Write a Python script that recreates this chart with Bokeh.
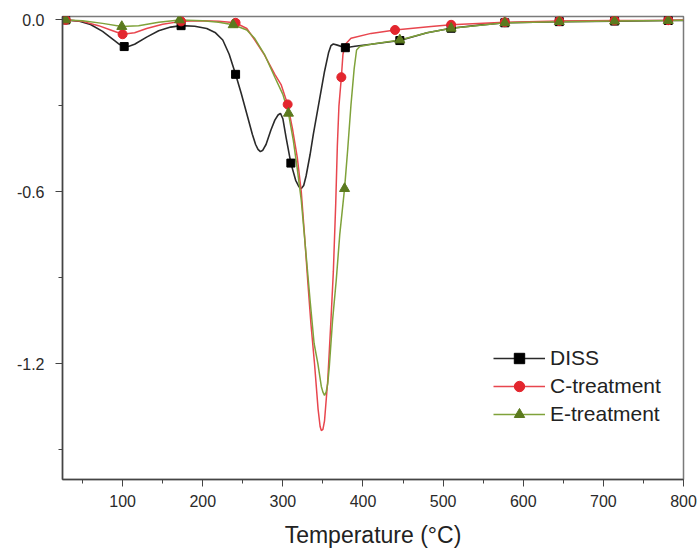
from bokeh.plotting import figure
from bokeh.models import Range1d, FixedTicker, NumeralTickFormatter, Legend, LegendItem
from bokeh.embed import file_html
from bokeh.resources import INLINE

# ---------------- data ----------------
diss_x = [25, 29, 45, 60, 75, 90, 96, 102, 108, 115, 130, 145, 160, 173, 190, 205, 216, 225, 233,
          241, 248, 256, 262, 266, 269, 272, 275, 279, 285, 290, 294, 297, 300, 304, 310, 316,
          320, 323, 326, 329, 334, 338, 345, 352, 357, 360, 363, 368, 378, 390, 410, 446, 480,
          510, 545, 577, 645, 714, 781, 800]
diss_y = [0.0, 0.0, -0.004, -0.016, -0.04, -0.072, -0.085, -0.093, -0.092, -0.085, -0.06, -0.038,
          -0.025, -0.02, -0.022, -0.03, -0.045, -0.07, -0.12, -0.19, -0.256, -0.338, -0.40,
          -0.435, -0.452, -0.46, -0.455, -0.435, -0.385, -0.35, -0.332, -0.326, -0.345, -0.41,
          -0.50, -0.56, -0.582, -0.589, -0.578, -0.545, -0.47, -0.40, -0.29, -0.18, -0.115,
          -0.09, -0.084, -0.088, -0.097, -0.092, -0.085, -0.072, -0.045, -0.029, -0.018, -0.01,
          -0.006, -0.004, -0.002, -0.002]

c_x = [25, 29, 50, 70, 85, 100, 115, 130, 150, 173, 200, 220, 241, 255, 265, 277, 290, 298, 306,
       312, 318, 323, 327, 331, 335, 339.5, 344, 346.5, 348, 350, 352, 356, 360, 363, 366, 368,
       370, 373, 375, 378, 385, 410, 440, 485, 510, 577, 645, 714, 781, 800]
c_y = [0.0, 0.0, -0.005, -0.02, -0.035, -0.05, -0.045, -0.03, -0.015, -0.005, -0.003, -0.005,
       -0.01, -0.03, -0.07, -0.122, -0.19, -0.227, -0.295, -0.38, -0.48, -0.60, -0.75, -0.91,
       -1.06, -1.20, -1.36, -1.42, -1.434, -1.43, -1.40, -1.26, -1.05, -0.88, -0.64, -0.44,
       -0.30, -0.20, -0.12, -0.085, -0.064, -0.047, -0.035, -0.023, -0.017, -0.008, -0.004,
       -0.002, -0.001, 0.0]

e_x = [25, 29, 50, 75, 99, 120, 145, 171, 200, 220, 238, 255, 265, 277, 290, 300, 307, 313, 318,
       323, 329, 334, 339, 343.7, 348, 350, 352, 354, 356, 358, 362, 366.6, 371, 377, 381, 385,
       389, 392, 396, 410, 446, 480, 510, 577, 645, 714, 781, 800]
e_y = [0.0, 0.0, -0.003, -0.012, -0.023, -0.02, -0.008, 0.0, -0.003, -0.008, -0.017, -0.035,
       -0.065, -0.12, -0.20, -0.26, -0.326, -0.42, -0.52, -0.63, -0.82, -0.98, -1.13, -1.20,
       -1.28, -1.30, -1.311, -1.30, -1.27, -1.21, -1.05, -0.91, -0.75, -0.589, -0.45, -0.297,
       -0.17, -0.105, -0.093, -0.085, -0.07, -0.045, -0.029, -0.01, -0.006, -0.004, -0.002,
       -0.001]

# marker positions (symbols drawn every ~68 degC, as in the original)
diss_mx = [29, 102, 173, 241, 310, 378, 446, 510, 577, 645, 714, 781]
diss_my = [0.0, -0.093, -0.02, -0.19, -0.50, -0.097, -0.072, -0.029, -0.01, -0.006, -0.004, -0.002]
c_mx = [29, 100, 173, 241, 306, 373, 440, 510, 577, 645, 714, 781]
c_my = [0.0, -0.05, -0.005, -0.01, -0.295, -0.20, -0.035, -0.017, -0.008, -0.004, -0.002, -0.001]
e_mx = [29, 99, 171, 238, 307, 377, 446, 510, 577, 645, 714, 781]
e_my = [0.0, -0.023, 0.0, -0.017, -0.326, -0.589, -0.07, -0.029, -0.01, -0.006, -0.004, -0.002]

series_names = ["DISS", "C-treatment", "E-treatment"]
x_ticks = [100, 200, 300, 400, 500, 600, 700, 800]
x_minor = [50, 150, 250, 350, 450, 550, 650, 750]
y_ticks = [0.0, -0.6, -1.2]
y_minor = [-0.3, -0.9, -1.5]

FONT = "Liberation Sans"

p = figure(width=700, height=551, output_backend="svg", toolbar_location=None,
           x_range=Range1d(25, 800), y_range=Range1d(-1.605, 0.012),
           min_border_left=62, min_border_right=17, min_border_top=16, min_border_bottom=72)
p.background_fill_color = "white"
p.border_fill_color = "white"
p.grid.visible = False
p.outline_line_color = "#7a7a7a"
p.outline_line_width = 1.5

# axes
p.xaxis.ticker = FixedTicker(ticks=x_ticks, minor_ticks=x_minor)
p.yaxis.ticker = FixedTicker(ticks=y_ticks, minor_ticks=y_minor)
p.yaxis.formatter = NumeralTickFormatter(format="0.0")
for ax in (p.xaxis[0], p.yaxis[0]):
    ax.axis_line_color = "#444444"
    ax.axis_line_width = 1.5
    ax.major_tick_line_color = "#444444"
    ax.minor_tick_line_color = "#444444"
    ax.major_tick_in = 0
    ax.major_tick_out = 7
    ax.minor_tick_in = 0
    ax.minor_tick_out = 4
    ax.major_label_text_font = FONT
    ax.major_label_text_font_size = "16px"
    ax.major_label_text_color = "#2a2a2a"
p.xaxis.major_label_standoff = 8
p.yaxis.major_label_standoff = 11
p.xaxis.axis_label = "Temperature (°C)"
p.xaxis.axis_label_text_font = FONT
p.xaxis.axis_label_text_font_size = "23px"
p.xaxis.axis_label_text_font_style = "normal"
p.xaxis.axis_label_text_color = "#222222"
p.xaxis.axis_label_standoff = 12

# series
l1 = p.line(diss_x, diss_y, line_color="#2a2a2a", line_width=1.6)
l2 = p.line(c_x, c_y, line_color="#e8464e", line_width=1.5)
l3 = p.line(e_x, e_y, line_color="#7fa23a", line_width=1.5)
m1 = p.scatter(diss_mx, diss_my, marker="square", size=8, fill_color="black", line_color="black")
m2 = p.scatter(c_mx, c_my, marker="circle", size=9, fill_color="#e3262e", line_color="#e3262e")
m3 = p.scatter(e_mx, e_my, marker="triangle", size=10, fill_color="#5b7a1e", line_color="#5b7a1e")

legend = Legend(items=[LegendItem(label=series_names[0], renderers=[l1, m1]),
                       LegendItem(label=series_names[1], renderers=[l2, m2]),
                       LegendItem(label=series_names[2], renderers=[l3, m3])],
                location=(431, 52))
legend.border_line_color = None
legend.background_fill_alpha = 0
legend.padding = 0
legend.margin = 0
legend.spacing = 2
legend.glyph_width = 52
legend.glyph_height = 26
legend.label_height = 26
legend.label_standoff = 5
legend.label_text_font = FONT
legend.label_text_font_size = "21px"
legend.label_text_color = "#222222"
p.add_layout(legend, "center")

open("out.html", "w").write(file_html(p, INLINE))
